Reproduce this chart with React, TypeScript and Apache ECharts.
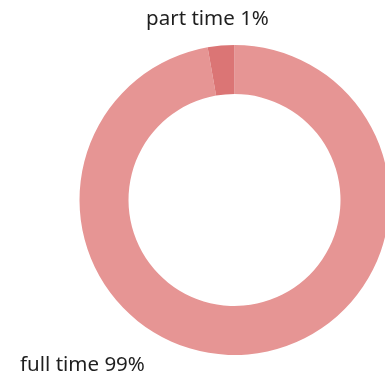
import React, { useEffect, useRef } from "react";
import * as echarts from "echarts";

const categories = ["full time", "part time"];
const values = [99, 1];
const colors = ["#e69594", "#db7575"];

export default function App() {
  const ref = useRef<HTMLDivElement>(null);
  useEffect(() => {
    if (!ref.current) return;
    const chart = echarts.init(ref.current, undefined, { renderer: "svg" });
    chart.setOption({
      animation: false,
      series: [
        {
          type: "pie",
          center: [234.5, 200],
          radius: [106, 155],
          startAngle: 90,
          clockwise: true,
          minAngle: 10,
          avoidLabelOverlap: false,
          data: categories.map((c, i) => ({
            name: c,
            value: values[i],
            itemStyle: { color: colors[i] },
          })),
          label: {
            show: true,
            position: "outside",
            formatter: (p: any) => `${p.name} ${p.value}%`,
            fontFamily: "Noto Sans",
            fontSize: 20.5,
            color: "#1f1f1f",
          },
          labelLine: { show: false },
          labelLayout: (params: any) => {
            if (params.dataIndex === 1) {
              return { x: 207.5, y: 17, align: "center", verticalAlign: "middle" };
            }
            return { x: 20, y: 363, align: "left", verticalAlign: "middle" };
          },
          emphasis: { disabled: true },
        },
      ],
    });
    return () => chart.dispose();
  }, []);
  return (
    <div
      ref={ref}
      style={{ position: "fixed", left: 0, top: 0, width: 385, height: 376 }}
    />
  );
}
